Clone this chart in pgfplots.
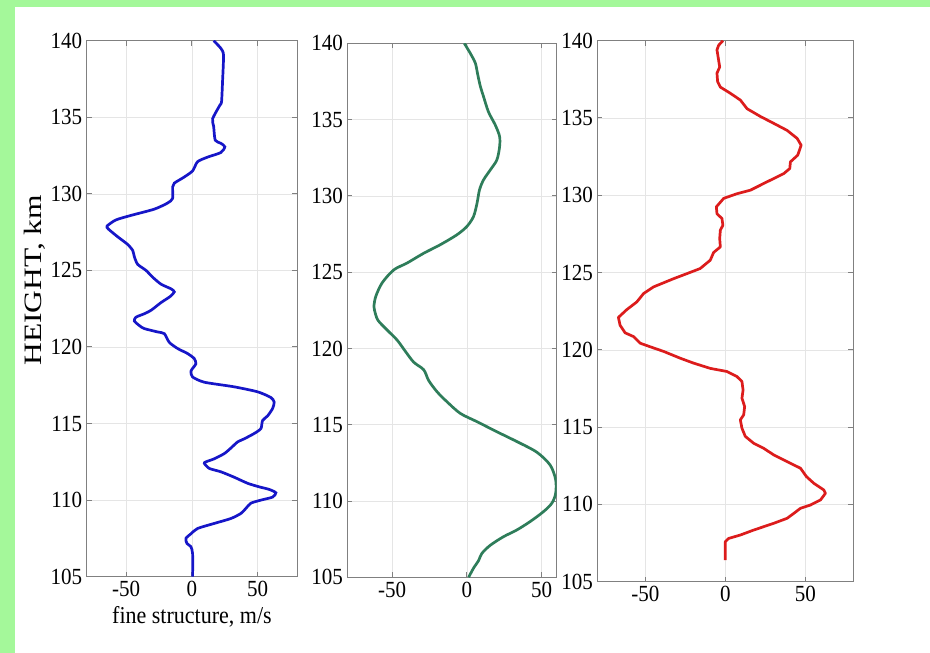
\documentclass[border=0pt]{standalone}
\usepackage{fontspec}
\setmainfont{Liberation Serif}
\usepackage{graphicx}
\usepackage{pgfplots}
\pgfplotsset{compat=1.18}
\definecolor{bgreen}{RGB}{164,248,154}
\definecolor{axgray}{RGB}{128,128,128}
\definecolor{lblue}{RGB}{22,22,200}
\definecolor{lgreen}{RGB}{46,125,90}
\definecolor{lred}{RGB}{220,28,28}
\newcommand{\tfont}{\fontsize{21bp}{21bp}\selectfont}
\pgfplotsset{
  panel/.style={
    scale only axis,
    ymin=105, ymax=140, ytick={105,110,...,140},
    xtick={-50,0,50},
    axis line style={draw=axgray, line width=1.3bp},
    tick style={draw=axgray, line width=1bp},
    major tick length=5bp,
    tick align=inside,
    xtick pos=both, ytick pos=both,
    grid=major,
    major grid style={draw=black!10, line width=0.6bp},
    /pgf/number format/assume math mode=true,
    ticklabel style={font=\tfont},
    xticklabel={\scalebox{1}[1.1]{\pgfmathprintnumber{\tick}}},
    yticklabel={\scalebox{1}[1.1]{\pgfmathprintnumber{\tick}}},
    xticklabel style={yshift=-1bp},
    yticklabel style={xshift=-1bp},
  }
}
\begin{document}
\begin{tikzpicture}
\useasboundingbox (0,0) rectangle (930bp,653bp);
\fill[white] (0,0) rectangle (930bp,653bp);
\fill[bgreen] (0,0) rectangle (15bp,653bp);
\fill[bgreen] (0,646bp) rectangle (930bp,653bp);

\begin{axis}[panel, at={(86.7bp,76.3bp)}, anchor=south west,
  width=210.5bp, height=536bp, xmin=-80, xmax=80,
  xlabel={\fontsize{22bp}{22bp}\selectfont\scalebox{1}[1.1]{fine structure, m/s}},
  xlabel style={at={(rel axis cs:0.5,0)}, anchor=center, yshift=-40bp},
  ylabel={\fontsize{25bp}{25bp}\selectfont\scalebox{1.26}[1]{HEIGHT, km}},
  ylabel style={at={(rel axis cs:-0.245,0.553)}, anchor=center, rotate=0},
]
\addplot[lblue, line width=2.7bp, smooth, tension=0.4] coordinates {
(16.5,140) (22,139.5) (24,139.06) (23.3,137.4) (22.5,136) (21.3,135.8) (15.7,134.9) (16.5,134.4) (17.7,133.5) (22,133.3) (25,133.07) (22,132.7) (12,132.4) (4.3,132.1) (0.5,131.5) (-5.8,131.1) (-13.4,130.7) (-14.7,130.45) (-14.7,129.7) (-18.5,129.4) (-28.6,129.0) (-46,128.6) (-57.7,128.3) (-64.5,127.9) (-63.5,127.7) (-56.5,127.2) (-48.9,126.7) (-45,126.3) (-43.8,125.9) (-41.3,125.4) (-34.9,125.0) (-29.9,124.56) (-23.5,124.1) (-16,123.8) (-13.4,123.6) (-16.5,123.3) (-23.5,122.9) (-31,122.4) (-36.2,122.17) (-42.5,121.95) (-43.8,121.7) (-40,121.4) (-36.2,121.2) (-26,120.98) (-21,120.87) (-17.2,120.3) (-10.9,119.9) (-3.3,119.57) (1.8,119.24) (3,118.9) (0.5,118.6) (-0.8,118.4) (0.5,118.04) (9.4,117.7) (32,117.4) (50,117.07) (60,116.7) (62.5,116.4) (61.3,115.98) (57.5,115.5) (53.7,115.2) (52.4,114.67) (47.3,114.35) (39.7,114.0) (34.7,113.8) (29.6,113.4) (24.6,113.04) (17,112.7) (10.6,112.5) (9.4,112.4) (13.2,112.07) (22,111.85) (32,111.5) (42.3,111.1) (51,110.87) (58.7,110.7) (63.8,110.48) (61.3,110.2) (52.4,110.0) (44.8,109.8) (41,109.46) (37.2,109.13) (29.6,108.8) (17,108.48) (4.3,108.15) (-0.8,107.8) (-4.6,107.5) (-3.8,107.17) (-0.8,106.96) (0.5,106.5) (0.5,105)
};
\end{axis}

\begin{axis}[panel, at={(347.3bp,75.7bp)}, anchor=south west,
  width=209.4bp, height=534bp, xmin=-80, xmax=60,
]
\addplot[lgreen, line width=2.7bp, smooth, tension=0.5] coordinates {
(-1.8,140) (2.2,139.35) (5.6,138.7) (7.1,138.0) (8.9,137.2) (11.1,136.5) (14.4,135.5) (18.9,134.65) (21.8,133.9) (21.8,133.2) (20,132.36) (15.6,131.7) (11.1,131.05) (8.4,130.4) (6.7,129.5) (4.4,128.65) (0,128.0) (-6.7,127.45) (-17.8,126.8) (-28.9,126.24) (-40,125.6) (-48.9,125.15) (-56.7,124.3) (-61,123.4) (-62.2,122.75) (-61.8,122.5) (-59.6,121.86) (-53.3,121.2) (-46.7,120.55) (-41.1,119.8) (-35.6,119.1) (-28.9,118.6) (-25.6,117.9) (-20,117.16) (-13.3,116.5) (-4.4,115.74) (6.7,115.2) (20,114.54) (33.3,113.9) (46.7,113.2) (55.6,112.36) (59.3,111.4) (59.3,110.5) (56.7,109.85) (51.1,109.3) (42.2,108.65) (33.3,108.1) (24.4,107.66) (15.6,107.1) (10,106.57) (7.8,106.1) (4.4,105.6) (1.1,105)
};
\end{axis}

\begin{axis}[panel, at={(597.3bp,71.3bp)}, anchor=south west,
  width=256bp, height=541bp, xmin=-80, xmax=80,
]
\addplot[lred, line width=2.7bp, line join=round] coordinates {
(-1.5,140) (-4.2,139.7) (-5.2,139.4) (-4.2,138.75) (-3.5,138.3) (-5.2,137.9) (-4.8,137.35) (-3.1,137.0) (3.1,136.6) (9.4,136.16) (13.6,135.6) (21.9,135.1) (30.3,134.65) (38.6,134.2) (44.9,133.68) (47.4,133.24) (45.3,132.6) (40.7,132.16) (40.3,131.73) (36.5,131.4) (26.1,130.87) (15.7,130.33) (7.3,130.1) (-1,129.8) (-5.6,129.25) (-5.2,128.8) (-2.1,128.5) (-1.5,128.06) (-3.1,127.74) (-3.5,127.2) (-3.1,126.66) (-7.3,126.3) (-9.4,125.8) (-15.7,125.26) (-24,124.93) (-32.4,124.6) (-44.9,124.07) (-51.1,123.64) (-55.3,123.1) (-61.6,122.6) (-66.8,122.1) (-65.8,121.6) (-62.6,121.1) (-57.4,120.86) (-53.2,120.43) (-47,120.2) (-38.6,119.9) (-28.2,119.46) (-19.8,119.14) (-9.4,118.8) (1,118.6) (7.3,118.27) (10.4,117.95) (11.1,117.4) (10.4,116.87) (12.1,116.33) (11.5,115.8) (9.4,115.47) (10.4,114.93) (12.5,114.4) (17.7,113.96) (24,113.63) (30.3,113.2) (38.6,112.77) (47,112.34) (50.7,111.8) (55.3,111.37) (61.6,110.93) (62.6,110.72) (59.5,110.29) (53.2,109.96) (47,109.75) (42.8,109.42) (38.6,109.1) (30.3,108.78) (17.7,108.34) (9.4,108.02) (2.1,107.8) (0,107.59) (0,106.83) (0,106.4)
};
\end{axis}
\end{tikzpicture}
\end{document}
